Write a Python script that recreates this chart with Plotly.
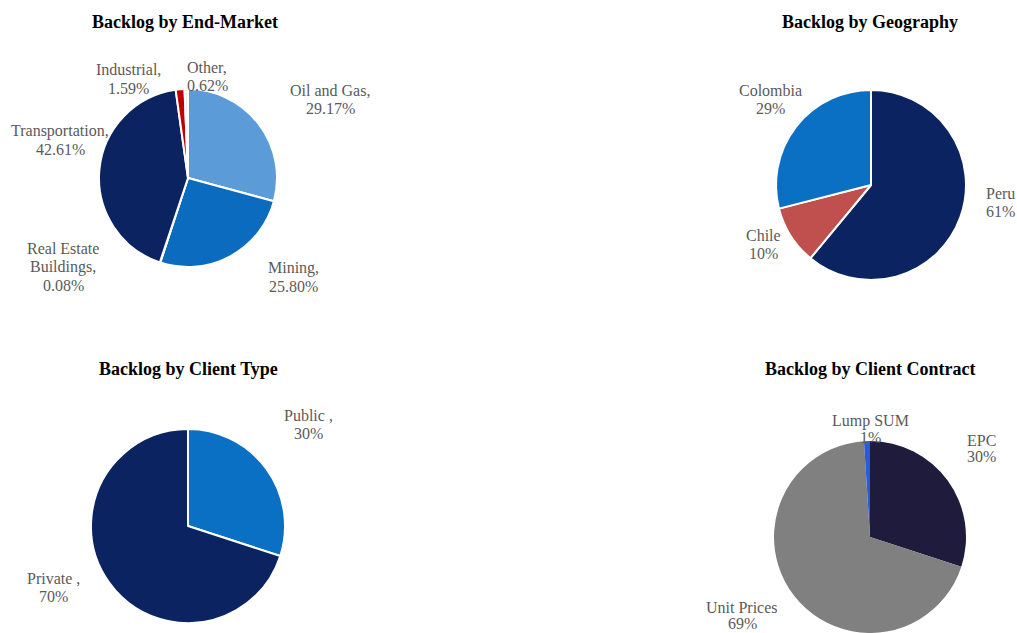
import plotly.graph_objects as go

W, H = 1017, 633

# ---- data -------------------------------------------------------------
end_market_names = ["Oil and Gas", "Mining", "Real Estate<br>Buildings",
                    "Transportation", "Industrial", "Other"]
end_market_values = [29.17, 25.80, 0.08, 42.61, 1.59, 0.62]
end_market_colors = ["#5B9BD7", "#0B6CBF", "#FFC000", "#0B2461", "#C00000", "#EEEEEE"]

geo_names = ["Peru", "Chile", "Colombia"]
geo_values = [61, 10, 29]
geo_colors = ["#0B2461", "#C0504D", "#0A70C4"]

client_type_names = ["Public", "Private"]
client_type_values = [30, 70]
client_type_colors = ["#0A70C4", "#0B2461"]

contract_names = ["EPC", "Unit Prices", "Lump SUM"]
contract_values = [30, 69, 1]
contract_colors = ["#1E1B3C", "#808080", "#2A5CD6"]

LABEL_FONT = dict(family="Liberation Serif", size=16, color="#5A5A5A")
TITLE_FONT = dict(family="Liberation Serif", size=18, color="#000000")


def pie_domain(cx, cy, r):
    """Domain (paper units) for a pie centred at pixel (cx, cy) with radius r."""
    return dict(x=[(cx - r) / W, (cx + r) / W],
                y=[max(0.0, 1 - (cy + r) / H), min(1.0, 1 - (cy - r) / H)])


def add_pie(fig, names, values, colors, cx, cy, r, line_w):
    fig.add_trace(go.Pie(
        labels=names, values=values, sort=False, direction="clockwise",
        rotation=0, textinfo="none", hoverinfo="label+percent",
        marker=dict(colors=colors, line=dict(color="white", width=line_w)),
        domain=pie_domain(cx, cy, r), showlegend=False,
    ))


def add_text_block(fig, lines, x, y0, font, step=18.5):
    for i, line in enumerate(lines):
        fig.add_annotation(
            text=line, x=x / W, y=1 - (y0 + i * step) / H,
            xref="paper", yref="paper", xanchor="center", yanchor="middle",
            showarrow=False, font=font,
        )


def label_lines(name, value, sep, fmt):
    parts = name.split("<br>")
    parts[-1] = parts[-1] + sep
    return parts + [fmt.format(value) + "%"]


fig = go.Figure()

# ---- pies ---------------------------------------------------------------
add_pie(fig, end_market_names, end_market_values, end_market_colors, 188, 178, 89, 2)
add_pie(fig, geo_names, geo_values, geo_colors, 871, 185, 95, 2)
add_pie(fig, client_type_names, client_type_values, client_type_colors, 188, 526, 97, 2)
add_pie(fig, contract_names, contract_values, contract_colors, 870, 537, 96, 0)

# ---- titles -------------------------------------------------------------
for text, x, y in [("Backlog by End-Market", 185, 22),
                   ("Backlog by Geography", 870, 22),
                   ("Backlog by Client Type", 188, 369),
                   ("Backlog by Client Contract", 870, 369)]:
    fig.add_annotation(text=f"<b>{text}</b>", x=x / W, y=1 - y / H,
                       xref="paper", yref="paper", xanchor="center",
                       yanchor="middle", showarrow=False, font=TITLE_FONT)

# ---- slice labels ---------------------------------------------------------
end_market_label_pos = [(330, 90), (293, 268), (63, 248), (60, 131), (128, 70), (207, 67)]
for n, v, (x, y) in zip(end_market_names, end_market_values, end_market_label_pos):
    add_text_block(fig, label_lines(n, v, ",", "{:.2f}"), x, y, LABEL_FONT)

geo_label_pos = [(1000, 193), (763, 235), (770, 90)]
for n, v, (x, y) in zip(geo_names, geo_values, geo_label_pos):
    add_text_block(fig, label_lines(n, v, "", "{:d}"), x, y, LABEL_FONT)

client_type_label_pos = [(308, 415), (53, 578)]
for n, v, (x, y) in zip(client_type_names, client_type_values, client_type_label_pos):
    add_text_block(fig, label_lines(n, v, " ,", "{:d}"), x, y, LABEL_FONT)

contract_label_pos = [(981, 440), (742, 607), (870, 421)]
for n, v, (x, y) in zip(contract_names, contract_values, contract_label_pos):
    add_text_block(fig, label_lines(n, v, "", "{:d}"), x, y, LABEL_FONT, step=16)

fig.update_layout(
    width=W, height=H, margin=dict(l=0, r=0, t=0, b=0),
    paper_bgcolor="white", plot_bgcolor="white",
)

fig.write_html("out.html")
